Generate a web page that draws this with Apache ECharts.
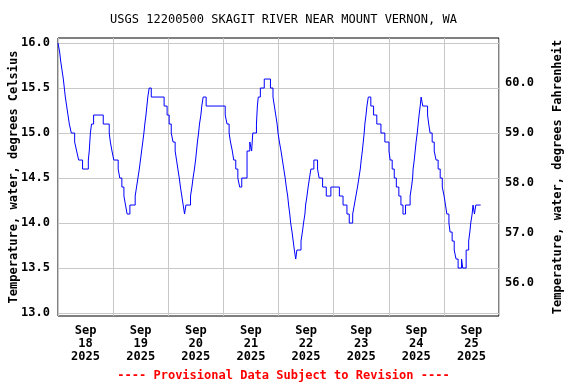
<!DOCTYPE html>
<html>
<head>
<meta charset="utf-8">
<script src="https://cdn.jsdelivr.net/npm/echarts@6/dist/echarts.min.js"></script>
<style>
html,body{margin:0;padding:0;background:#fff;}
#chart{width:576px;height:384px;}
</style>
</head>
<body>
<div id="chart"></div>
<script>
// Hours since Sep 18 2025 00:00 at which each reading begins
const hours = [
  0, 0.72, 1.16, 1.74, 2.32, 2.75, 3.19, 3.77, 4.35, 4.93, 5.8, 7.25, 8.12, 8.99, 10.7,
  13.2, 13.6, 14.1, 14.6, 15.5, 19.7, 22.3, 22.8, 23.5, 24.3, 26.2, 26.9, 27.8, 28.7, 29.4, 30.1, 31.3,
  33.6, 34.2, 34.8, 35.4, 35.9, 36.4, 36.9, 37.4, 37.8, 38.3, 38.7, 39.1, 39.7, 40.6,
  46.2, 47.5, 48.4, 49.3, 50.1, 51.0, 51.6, 52.2, 52.8, 53.3, 53.9, 54.5, 55.1, 55.7,
  57.7, 58.3, 58.8, 59.4, 59.9, 60.3, 60.7, 61.2, 61.6, 62.2, 62.6, 63.2, 64.5,
  72.8, 73.6, 74.5, 75.1, 75.9, 76.5, 77.4, 78.3, 79.1, 80.0, 82.3, 83.5, 84.3, 84.8,
  86.4, 86.8, 87.2, 88.1, 89.8,
  92.5, 93.6, 94.2, 94.8, 95.4, 95.8, 96.4, 97.1, 97.7, 98.3, 98.9, 99.4, 100.0, 100.4, 100.9,
  101.3, 101.9, 102.4, 102.9, 103.5, 104.0,
  105.8, 106.4, 106.9, 107.5, 107.8, 108.4, 108.9, 109.5, 110.1, 111.4, 113.0, 113.7, 115.2,
  116.8, 118.8, 122.5, 124.1, 125.8, 126.8, 128.3, 129.0, 129.7, 130.4, 131.0, 131.6, 132.0,
  132.5, 132.9, 133.3, 133.6, 134.1, 134.5, 135.1, 136.2, 137.4,
  138.8, 140.6, 142.3, 144.1, 144.6, 145.5, 146.4, 147.3, 148.4, 149.3, 150.2, 151.3,
  153.3, 153.9, 154.4, 154.6, 155.1, 155.5, 155.9, 156.4, 156.8, 157.2, 157.7, 158.1, 158.8,
  160.9, 161.4, 162.0, 162.9, 163.8, 164.6, 165.5, 166.4, 167.3, 168.1, 168.7, 169.3, 170.2,
  170.7, 171.6, 172.5, 173.3, 174.2, 175.7, 176.2, 177.7, 178.8, 179.3, 179.7, 180.3, 180.7,
  181.3, 181.9, 182.3, 184.0
];
const tempC = [
  16.0, 15.9, 15.8, 15.7, 15.6, 15.5, 15.4, 15.3, 15.2, 15.1, 15.0, 14.9, 14.8, 14.7, 14.6,
  14.7, 14.8, 15.0, 15.1, 15.2, 15.1, 15.0, 14.9, 14.8, 14.7, 14.6, 14.5, 14.4, 14.3, 14.2, 14.1,
  14.2, 14.3, 14.4, 14.5, 14.6, 14.7, 14.8, 14.9, 15.0, 15.1, 15.2, 15.3, 15.4, 15.5,
  15.4, 15.3, 15.2, 15.1, 15.0, 14.9, 14.8, 14.7, 14.6, 14.5, 14.4, 14.3, 14.2, 14.1,
  14.2, 14.3, 14.4, 14.5, 14.6, 14.7, 14.8, 14.9, 15.0, 15.1, 15.2, 15.3, 15.4,
  15.3, 15.2, 15.1, 15.0, 14.9, 14.8, 14.7, 14.6, 14.5, 14.4, 14.5, 14.8, 14.9, 14.8,
  15.0, 15.1, 15.3, 15.4, 15.5,
  15.6, 15.5, 15.4, 15.3, 15.2, 15.1, 15.0, 14.9, 14.8, 14.7, 14.6, 14.5, 14.4, 14.3, 14.2,
  14.1, 14.0, 13.9, 13.8, 13.7, 13.6,
  13.7, 13.8, 13.9, 14.0, 14.1, 14.2, 14.3, 14.4, 14.5, 14.6, 14.7, 14.6, 14.5,
  14.4, 14.3, 14.4, 14.3, 14.2, 14.1, 14.0, 14.1, 14.2, 14.3, 14.4, 14.5, 14.6,
  14.7, 14.8, 14.9, 15.0, 15.1, 15.2, 15.3, 15.4, 15.3,
  15.2, 15.1, 15.0, 14.9, 14.8, 14.7, 14.6, 14.5, 14.4, 14.3, 14.2, 14.1,
  14.2, 14.3, 14.4, 14.5, 14.6, 14.7, 14.8, 14.9, 15.0, 15.1, 15.2, 15.3, 15.4,
  15.3, 15.2, 15.1, 15.0, 14.9, 14.8, 14.7, 14.6, 14.5, 14.4, 14.3, 14.2, 14.1,
  14.0, 13.9, 13.8, 13.7, 13.6, 13.5, 13.6, 13.5, 13.7, 13.8, 13.9, 14.0, 14.1,
  14.2, 14.1, 14.2, 14.2
];
const celsiusTicks = [13.0, 13.5, 14.0, 14.5, 15.0, 15.5, 16.0];
const fahrenheitTicks = [56.0, 57.0, 58.0, 59.0, 60.0];
const dayLabels = ['Sep\n18\n2025','Sep\n19\n2025','Sep\n20\n2025','Sep\n21\n2025',
                   'Sep\n22\n2025','Sep\n23\n2025','Sep\n24\n2025','Sep\n25\n2025'];
const titleText = 'USGS 12200500 SKAGIT RIVER NEAR MOUNT VERNON, WA';
const footerText = '---- Provisional Data Subject to Revision ----';
const leftName = 'Temperature, water, degrees Celsius';
const rightName = 'Temperature, water, degrees Fahrenheit';

const cMin = 12.967, cMax = 16.056;
const FONT = 'DejaVu Sans Mono';
const data = hours.map((h, i) => [h, tempC[i]]);

const chart = echarts.init(document.getElementById('chart'), null, {renderer: 'canvas'});
chart.setOption({
  animation: false,
  backgroundColor: '#ffffff',
  title: [
    {text: titleText, left: 278.5, top: 9, textAlign: 'center',
     textStyle: {fontFamily: FONT, fontSize: 12, fontWeight: 'normal', color: '#000'}},
    {text: footerText, left: 278.5, top: 365, textAlign: 'center',
     textStyle: {fontFamily: FONT, fontSize: 12, fontWeight: 'bold', color: '#ff0000'}}
  ],
  grid: {left: 58, right: 77, top: 38, bottom: 68, containLabel: false, outerBoundsMode: 'none',
         show: true, borderColor: '#000', borderWidth: 1, backgroundColor: 'transparent'},
  xAxis: [
    {type: 'value', min: 0, max: 192, interval: 24, position: 'bottom',
     axisLine: {show: false}, axisTick: {show: false}, axisLabel: {show: false},
     splitLine: {show: true, lineStyle: {color: '#c8c8c8', width: 1}}},
    {type: 'value', min: 0, max: 192, interval: 12, position: 'bottom',
     axisLine: {show: false}, axisTick: {show: false}, splitLine: {show: false},
     axisLabel: {show: true, margin: 8, fontFamily: FONT, fontSize: 12, fontWeight: 'bold', color: '#000', lineHeight: 13,
       formatter: v => (Math.round(v) % 24 === 12) ? dayLabels[Math.floor(v / 24)] : ''}}
  ],
  yAxis: [
    {type: 'value', min: cMin, max: cMax, position: 'left',
     name: leftName, nameLocation: 'middle', nameRotate: 90, nameGap: 38, nameMoveOverlap: false,
     nameTextStyle: {fontFamily: FONT, fontSize: 12, fontWeight: 'bold', color: '#000'},
     axisLine: {show: false}, axisTick: {show: false, customValues: celsiusTicks},
     splitLine: {show: true, lineStyle: {color: '#c8c8c8', width: 1}},
     axisLabel: {margin: 8, customValues: celsiusTicks, fontFamily: FONT, fontSize: 12, fontWeight: 'bold', color: '#000',
       formatter: v => v.toFixed(1)}},
    {type: 'value', min: cMin * 1.8 + 32, max: cMax * 1.8 + 32, position: 'right',
     name: rightName, nameLocation: 'middle', nameRotate: 90, nameGap: 53, nameMoveOverlap: false,
     nameTextStyle: {fontFamily: FONT, fontSize: 12, fontWeight: 'bold', color: '#000'},
     axisLine: {show: false},
     axisTick: {show: false, customValues: fahrenheitTicks},
     splitLine: {show: false},
     axisLabel: {margin: 6, customValues: fahrenheitTicks, fontFamily: FONT, fontSize: 12, fontWeight: 'bold', color: '#000',
       formatter: v => v.toFixed(1)}}
  ],
  series: [{
    type: 'line', xAxisIndex: 0, yAxisIndex: 0, data: data, step: 'end',
    showSymbol: false, symbol: 'none', clip: true,
    lineStyle: {color: '#0000ff', width: 1}
  }]
});
</script>
</body>
</html>
